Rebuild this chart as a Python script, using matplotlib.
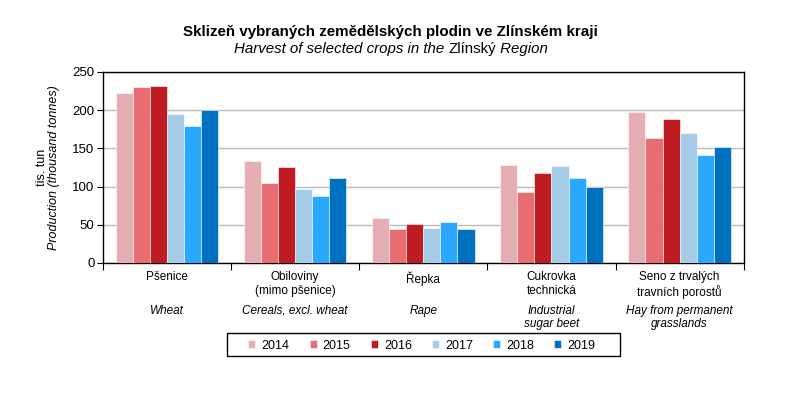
import numpy as np
import matplotlib.pyplot as plt
from matplotlib.patches import Rectangle

plt.rcParams['font.family'] = ['Liberation Sans', 'DejaVu Sans']

years = ['2014', '2015', '2016', '2017', '2018', '2019']
crops_cz = ['Pšenice', 'Obiloviny\n(mimo pšenice)', 'Řepka', 'Cukrovka\ntechnická',
            'Seno z trvalých\ntravních porostů']
crops_en = ['Wheat', 'Cereals, excl. wheat', 'Rape', 'Industrial\nsugar beet',
            'Hay from permanent\ngrasslands']
v2014 = [222, 134, 59, 128, 198]
v2015 = [230, 105, 44, 93, 163]
v2016 = [232, 126, 51, 118, 188]
v2017 = [195, 97, 46, 127, 170]
v2018 = [179, 88, 53, 111, 141]
v2019 = [200, 111, 45, 99, 152]
colors = ['#E6AEB0', '#E96C72', '#BE1B22', '#A7CCE7', '#2AA7FF', '#0070C0']

series = [v2014, v2015, v2016, v2017, v2018, v2019]

fig = plt.figure(figsize=(8.04, 3.93), dpi=100)
ax = fig.add_axes([0.128, 0.331, 0.797, 0.486])

x = np.arange(len(crops_cz))
w = 0.8 / 6
for i, vals in enumerate(series):
    ax.bar(x - 0.4 + w * (i + 0.5), vals, w, color=colors[i], label=years[i],
           edgecolor='white', linewidth=0.4, zorder=3)

ax.set_xlim(-0.5, 4.5)
ax.set_ylim(0, 250)
ax.set_yticks([0, 50, 100, 150, 200, 250])
ax.tick_params(axis='y', labelsize=9.5, length=4, width=0.8, pad=2)
ax.set_xticks(np.arange(-0.5, 5, 1))
ax.set_xticklabels([])
ax.tick_params(axis='x', length=5, width=0.8)
ax.grid(axis='y', color='#BBBBBB', linewidth=1, zorder=0)
for s in ax.spines.values():
    s.set_linewidth(1)

# y label, two lines
ax.text(-0.095, 0.5, 'tis. tun', transform=ax.transAxes, rotation=90,
        ha='center', va='center', fontsize=9)
ax.text(-0.076, 0.5, 'Production (thousand tonnes)', transform=ax.transAxes,
        rotation=90, ha='center', va='center', fontsize=9, style='italic')

# category labels
for i in range(len(crops_cz)):
    ax.annotate(crops_cz[i], (x[i], 0), xycoords=('data', 'axes fraction'),
                xytext=(0, -6), textcoords='offset points', ha='center', va='top',
                fontsize=8.5, linespacing=1.2)
    ax.annotate(crops_en[i], (x[i], 0), xycoords=('data', 'axes fraction'),
                xytext=(0, -30), textcoords='offset points', ha='center', va='top',
                fontsize=8.5, style='italic', linespacing=1.2)

# legend: entries spread out, frame drawn separately
leg = fig.legend(loc='lower left', bbox_to_anchor=(244 / 804, 0.0941, 356 / 804, 0.0585),
                 mode='expand', ncol=6, fontsize=9, frameon=False,
                 handlelength=0.55, handleheight=0.55, handletextpad=0.5,
                 borderpad=0.35, borderaxespad=0)
fig.patches.append(Rectangle((227 / 804, 0.0941), 393 / 804, 0.0585,
                             transform=fig.transFigure, fill=False,
                             edgecolor='black', linewidth=1))

# titles
fig.text(0.486, 0.918, 'Sklizeň vybraných zemědělských plodin ve Zlínském kraji',
         ha='center', va='center', fontsize=10.9, fontweight='bold')

parts = [('Harvest of selected crops in the ', 'italic'), ('Zlínský', 'normal'),
         (' Region', 'italic')]
fig.canvas.draw()
r = fig.canvas.get_renderer()
texts = []
for s, st in parts:
    texts.append(fig.text(0, 0.875, s, ha='left', va='center', fontsize=10.8, style=st))
widths = [t.get_window_extent(r).width for t in texts]
total = sum(widths)
xpos = 0.486 * fig.bbox.width - total / 2
for t, wd in zip(texts, widths):
    t.set_x(xpos / fig.bbox.width)
    xpos += wd

fig.savefig('out.png', dpi=100)
